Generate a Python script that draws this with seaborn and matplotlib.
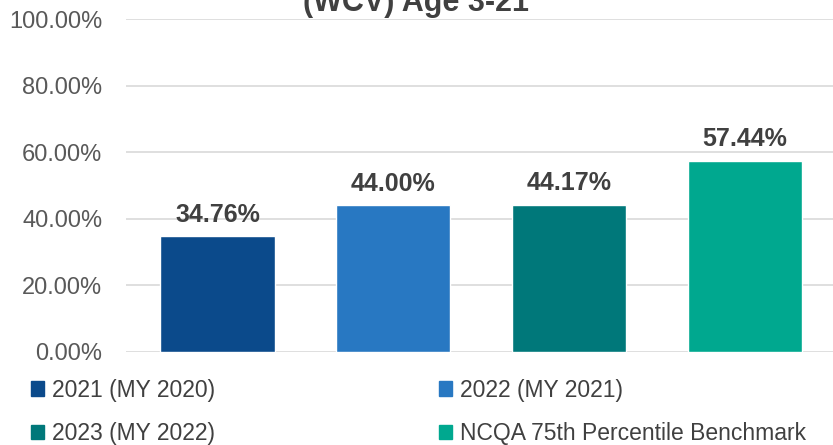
import matplotlib
matplotlib.use("Agg")
import matplotlib.pyplot as plt
import matplotlib.patches as mpatches
import seaborn as sns
import pandas as pd
from matplotlib.ticker import FuncFormatter

categories = ["2021 (MY 2020)", "2022 (MY 2021)", "2023 (MY 2022)", "NCQA 75th Percentile Benchmark"]
values = [34.76, 44.00, 44.17, 57.44]
colors = ["#0B4A8B", "#2878C2", "#00787A", "#00A88F"]
title = "(WCV) Age 3-21"

df = pd.DataFrame({"Category": categories, "Rate": values})

sns.set_theme(style="white")
plt.rcParams["font.family"] = ["Liberation Sans", "DejaVu Sans"]

fig = plt.figure(figsize=(8.33, 4.45), dpi=100)
ax = fig.add_axes([126 / 833, 1 - 352 / 445, 1 - 126 / 833, (352 - 19) / 445])

sns.barplot(data=df, x="Category", y="Rate", hue="Category", palette=colors,
            width=0.65, dodge=False, legend=False, ax=ax, saturation=1)

for i, v in enumerate(values):
    ax.annotate(f"{v:.2f}%", (i, v), xytext=(0, 7), textcoords="offset points",
                ha="center", va="bottom", fontsize=18, fontweight="bold", color="#404040")

ax.set_ylim(0, 100)
ax.set_xlim(-0.52, 3.5)
ax.set_yticks(range(0, 101, 20))
ax.yaxis.set_major_formatter(FuncFormatter(lambda y, _: f"{y:.2f}%"))
ax.tick_params(axis="y", labelsize=17, colors="#595959", length=0, pad=17)
ax.set_xticks([])
ax.set_xlabel("")
ax.set_ylabel("")
ax.grid(axis="y", color="#D9D9D9", linewidth=1.2)
ax.set_axisbelow(True)
for s in ax.spines.values():
    s.set_visible(False)

# title sits partly above the top edge, as in the source image
fig.text(416 / 833, 1 - 11 / 445, title, ha="center", va="baseline",
         fontsize=22, fontweight="bold", color="#404040")

# legend fills by column, so reorder to read row-wise
order = [0, 2, 1, 3]
handles = [mpatches.Patch(color=colors[i], label=categories[i]) for i in order]
leg = fig.legend(handles=handles, ncol=2, loc="upper left",
                 bbox_to_anchor=(10 / 833, 1 - 358 / 445), frameon=False,
                 fontsize=16.5, handlelength=0.57, handleheight=0.57, handletextpad=0.35,
                 columnspacing=9.8, labelspacing=0.9, labelcolor="#404040")

fig.savefig("out.png", dpi=100)
